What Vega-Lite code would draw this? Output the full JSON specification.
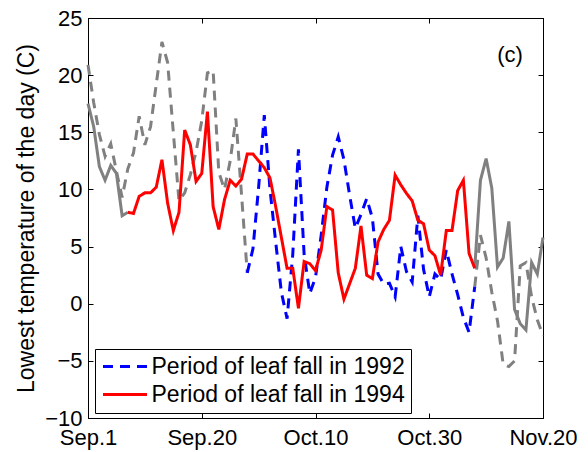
{
  "$schema": "https://vega.github.io/schema/vega-lite/v6.json",
  "width": 455,
  "height": 400,
  "autosize": "none",
  "padding": {"left": 88, "top": 18, "right": 45, "bottom": 34},
  "background": "white",
  "config": {
    "font": "Liberation Sans",
    "view": {"stroke": "black", "strokeWidth": 1},
    "axis": {
      "grid": false,
      "domainColor": "black",
      "domainWidth": 1,
      "tickColor": "black",
      "tickWidth": 1,
      "tickSize": -5,
      "labelColor": "black",
      "labelFont": "Liberation Sans",
      "labelFontSize": 22,
      "titleFont": "Liberation Sans",
      "titleColor": "black",
      "titleFontWeight": "normal"
    }
  },
  "datasets": {
    "temps": [
      {"s": "g92a", "d": 0, "t": 20.9}, {"s": "g92a", "d": 1, "t": 17.6}, {"s": "g92a", "d": 2, "t": 14.8}, {"s": "g92a", "d": 3, "t": 12.9},
      {"s": "g92a", "d": 4, "t": 14.0}, {"s": "g92a", "d": 5, "t": 11.6}, {"s": "g92a", "d": 6, "t": 9.3}, {"s": "g92a", "d": 7, "t": 11.8},
      {"s": "g92a", "d": 8, "t": 13.2}, {"s": "g92a", "d": 9, "t": 16.4}, {"s": "g92a", "d": 10, "t": 13.9}, {"s": "g92a", "d": 11, "t": 15.5},
      {"s": "g92a", "d": 12, "t": 19.2}, {"s": "g92a", "d": 13, "t": 22.9}, {"s": "g92a", "d": 14, "t": 21.1}, {"s": "g92a", "d": 15, "t": 15.0},
      {"s": "g92a", "d": 16, "t": 9.0}, {"s": "g92a", "d": 17, "t": 9.7}, {"s": "g92a", "d": 18, "t": 11.3}, {"s": "g92a", "d": 19, "t": 13.3},
      {"s": "g92a", "d": 20, "t": 16.0}, {"s": "g92a", "d": 21, "t": 20.2}, {"s": "g92a", "d": 22, "t": 20.4}, {"s": "g92a", "d": 23, "t": 11.5},
      {"s": "g92a", "d": 24, "t": 10.0}, {"s": "g92a", "d": 25, "t": 12.5}, {"s": "g92a", "d": 26, "t": 16.2}, {"s": "g92a", "d": 27, "t": 9.5},
      {"s": "g92a", "d": 28, "t": 2.7},
      {"s": "g92b", "d": 68, "t": 1.5}, {"s": "g92b", "d": 69, "t": 6.0}, {"s": "g92b", "d": 70, "t": 4.0}, {"s": "g92b", "d": 71, "t": 1.0},
      {"s": "g92b", "d": 72, "t": -1.5}, {"s": "g92b", "d": 73, "t": -5.3}, {"s": "g92b", "d": 74, "t": -5.5}, {"s": "g92b", "d": 75, "t": -5.0},
      {"s": "g92b", "d": 76, "t": 3.3}, {"s": "g92b", "d": 77, "t": 3.6}, {"s": "g92b", "d": 78, "t": 0.6}, {"s": "g92b", "d": 79, "t": -1.4},
      {"s": "g92b", "d": 80, "t": -2.8},
      {"s": "g94a", "d": 0, "t": 17.5}, {"s": "g94a", "d": 1, "t": 15.5}, {"s": "g94a", "d": 2, "t": 12.0}, {"s": "g94a", "d": 3, "t": 10.8},
      {"s": "g94a", "d": 4, "t": 12.1}, {"s": "g94a", "d": 5, "t": 11.4}, {"s": "g94a", "d": 6, "t": 7.7}, {"s": "g94a", "d": 7, "t": 8.0},
      {"s": "g94b", "d": 68, "t": 3.1}, {"s": "g94b", "d": 69, "t": 10.8}, {"s": "g94b", "d": 70, "t": 12.7}, {"s": "g94b", "d": 71, "t": 10.1},
      {"s": "g94b", "d": 72, "t": 3.2}, {"s": "g94b", "d": 73, "t": 4.0}, {"s": "g94b", "d": 74, "t": 7.2}, {"s": "g94b", "d": 75, "t": -0.5},
      {"s": "g94b", "d": 76, "t": -1.75}, {"s": "g94b", "d": 77, "t": -2.3}, {"s": "g94b", "d": 78, "t": 3.6}, {"s": "g94b", "d": 79, "t": 2.6},
      {"s": "g94b", "d": 80, "t": 5.8}
    ],
    "leaf": [
      {"s": "Period of leaf fall in 1992", "d": 28, "t": 2.7}, {"s": "Period of leaf fall in 1992", "d": 29, "t": 4.8},
      {"s": "Period of leaf fall in 1992", "d": 30, "t": 10.2}, {"s": "Period of leaf fall in 1992", "d": 31, "t": 16.5},
      {"s": "Period of leaf fall in 1992", "d": 32, "t": 10.0}, {"s": "Period of leaf fall in 1992", "d": 33, "t": 5.4},
      {"s": "Period of leaf fall in 1992", "d": 34, "t": 1.0}, {"s": "Period of leaf fall in 1992", "d": 35, "t": -1.3},
      {"s": "Period of leaf fall in 1992", "d": 36, "t": 4.3}, {"s": "Period of leaf fall in 1992", "d": 37, "t": 13.5},
      {"s": "Period of leaf fall in 1992", "d": 38, "t": 4.3}, {"s": "Period of leaf fall in 1992", "d": 39, "t": 0.9},
      {"s": "Period of leaf fall in 1992", "d": 40, "t": 2.3}, {"s": "Period of leaf fall in 1992", "d": 41, "t": 6.0},
      {"s": "Period of leaf fall in 1992", "d": 42, "t": 10.2}, {"s": "Period of leaf fall in 1992", "d": 43, "t": 13.0},
      {"s": "Period of leaf fall in 1992", "d": 44, "t": 14.6}, {"s": "Period of leaf fall in 1992", "d": 45, "t": 12.6},
      {"s": "Period of leaf fall in 1992", "d": 46, "t": 9.5}, {"s": "Period of leaf fall in 1992", "d": 47, "t": 6.6},
      {"s": "Period of leaf fall in 1992", "d": 48, "t": 7.8}, {"s": "Period of leaf fall in 1992", "d": 49, "t": 9.2},
      {"s": "Period of leaf fall in 1992", "d": 50, "t": 7.5}, {"s": "Period of leaf fall in 1992", "d": 51, "t": 2.6},
      {"s": "Period of leaf fall in 1992", "d": 52, "t": 1.7}, {"s": "Period of leaf fall in 1992", "d": 53, "t": 1.8},
      {"s": "Period of leaf fall in 1992", "d": 54, "t": 0.6}, {"s": "Period of leaf fall in 1992", "d": 55, "t": 5.0},
      {"s": "Period of leaf fall in 1992", "d": 56, "t": 2.8}, {"s": "Period of leaf fall in 1992", "d": 57, "t": 1.9},
      {"s": "Period of leaf fall in 1992", "d": 58, "t": 7.7}, {"s": "Period of leaf fall in 1992", "d": 59, "t": 3.0},
      {"s": "Period of leaf fall in 1992", "d": 60, "t": 0.6}, {"s": "Period of leaf fall in 1992", "d": 61, "t": 2.6},
      {"s": "Period of leaf fall in 1992", "d": 62, "t": 2.1}, {"s": "Period of leaf fall in 1992", "d": 63, "t": 4.7},
      {"s": "Period of leaf fall in 1992", "d": 64, "t": 2.6}, {"s": "Period of leaf fall in 1992", "d": 65, "t": 0.8},
      {"s": "Period of leaf fall in 1992", "d": 66, "t": -1.2}, {"s": "Period of leaf fall in 1992", "d": 67, "t": -2.5},
      {"s": "Period of leaf fall in 1992", "d": 68, "t": 1.5},
      {"s": "Period of leaf fall in 1994", "d": 7, "t": 8.0}, {"s": "Period of leaf fall in 1994", "d": 8, "t": 7.9},
      {"s": "Period of leaf fall in 1994", "d": 9, "t": 9.4}, {"s": "Period of leaf fall in 1994", "d": 10, "t": 9.7},
      {"s": "Period of leaf fall in 1994", "d": 11, "t": 9.7}, {"s": "Period of leaf fall in 1994", "d": 12, "t": 10.2},
      {"s": "Period of leaf fall in 1994", "d": 13, "t": 12.6}, {"s": "Period of leaf fall in 1994", "d": 14, "t": 8.8},
      {"s": "Period of leaf fall in 1994", "d": 15, "t": 6.4}, {"s": "Period of leaf fall in 1994", "d": 16, "t": 8.0},
      {"s": "Period of leaf fall in 1994", "d": 17, "t": 15.2}, {"s": "Period of leaf fall in 1994", "d": 18, "t": 13.9},
      {"s": "Period of leaf fall in 1994", "d": 19, "t": 10.7}, {"s": "Period of leaf fall in 1994", "d": 20, "t": 11.4},
      {"s": "Period of leaf fall in 1994", "d": 21, "t": 16.8}, {"s": "Period of leaf fall in 1994", "d": 22, "t": 8.5},
      {"s": "Period of leaf fall in 1994", "d": 23, "t": 6.5}, {"s": "Period of leaf fall in 1994", "d": 24, "t": 9.1},
      {"s": "Period of leaf fall in 1994", "d": 25, "t": 10.8}, {"s": "Period of leaf fall in 1994", "d": 26, "t": 10.3},
      {"s": "Period of leaf fall in 1994", "d": 27, "t": 10.9}, {"s": "Period of leaf fall in 1994", "d": 28, "t": 13.1},
      {"s": "Period of leaf fall in 1994", "d": 29, "t": 13.1}, {"s": "Period of leaf fall in 1994", "d": 30, "t": 12.5},
      {"s": "Period of leaf fall in 1994", "d": 31, "t": 11.9}, {"s": "Period of leaf fall in 1994", "d": 32, "t": 11.0},
      {"s": "Period of leaf fall in 1994", "d": 33, "t": 8.5}, {"s": "Period of leaf fall in 1994", "d": 34, "t": 5.8},
      {"s": "Period of leaf fall in 1994", "d": 35, "t": 3.1}, {"s": "Period of leaf fall in 1994", "d": 36, "t": 3.1},
      {"s": "Period of leaf fall in 1994", "d": 37, "t": -0.4}, {"s": "Period of leaf fall in 1994", "d": 38, "t": 3.7},
      {"s": "Period of leaf fall in 1994", "d": 39, "t": 3.5}, {"s": "Period of leaf fall in 1994", "d": 40, "t": 2.9},
      {"s": "Period of leaf fall in 1994", "d": 41, "t": 4.7}, {"s": "Period of leaf fall in 1994", "d": 42, "t": 8.5},
      {"s": "Period of leaf fall in 1994", "d": 43, "t": 8.2}, {"s": "Period of leaf fall in 1994", "d": 44, "t": 2.7},
      {"s": "Period of leaf fall in 1994", "d": 45, "t": 0.4}, {"s": "Period of leaf fall in 1994", "d": 46, "t": 1.75},
      {"s": "Period of leaf fall in 1994", "d": 47, "t": 3.1}, {"s": "Period of leaf fall in 1994", "d": 48, "t": 6.8},
      {"s": "Period of leaf fall in 1994", "d": 49, "t": 2.5}, {"s": "Period of leaf fall in 1994", "d": 50, "t": 2.2},
      {"s": "Period of leaf fall in 1994", "d": 51, "t": 5.4}, {"s": "Period of leaf fall in 1994", "d": 52, "t": 6.5},
      {"s": "Period of leaf fall in 1994", "d": 53, "t": 7.3}, {"s": "Period of leaf fall in 1994", "d": 54, "t": 11.25},
      {"s": "Period of leaf fall in 1994", "d": 55, "t": 10.4}, {"s": "Period of leaf fall in 1994", "d": 56, "t": 9.65},
      {"s": "Period of leaf fall in 1994", "d": 57, "t": 9.0}, {"s": "Period of leaf fall in 1994", "d": 58, "t": 7.3},
      {"s": "Period of leaf fall in 1994", "d": 59, "t": 7.0}, {"s": "Period of leaf fall in 1994", "d": 60, "t": 4.7},
      {"s": "Period of leaf fall in 1994", "d": 61, "t": 4.2}, {"s": "Period of leaf fall in 1994", "d": 62, "t": 2.5},
      {"s": "Period of leaf fall in 1994", "d": 63, "t": 6.4}, {"s": "Period of leaf fall in 1994", "d": 64, "t": 6.4},
      {"s": "Period of leaf fall in 1994", "d": 65, "t": 9.9}, {"s": "Period of leaf fall in 1994", "d": 66, "t": 10.8},
      {"s": "Period of leaf fall in 1994", "d": 67, "t": 4.4}, {"s": "Period of leaf fall in 1994", "d": 68, "t": 3.1}
    ],
    "note": [{"d": 74.2, "t": 21.8, "label": "(c)"}]
  },
  "resolve": {"axis": {"x": "independent", "y": "independent"}},
  "layer": [
    {
      "data": {"name": "temps"},
      "transform": [{"filter": "datum.s == 'g92a' || datum.s == 'g92b'"}],
      "mark": {"type": "line", "color": "#808080", "strokeWidth": 3, "strokeDash": [10, 7]},
      "encoding": {
        "x": {
          "field": "d", "type": "quantitative",
          "scale": {"domain": [0, 80], "nice": false, "zero": false},
          "axis": {
            "orient": "bottom", "title": null, "values": [0, 20, 40, 60, 80],
            "labelExpr": "datum.value == 0 ? 'Sep.1' : datum.value == 20 ? 'Sep.20' : datum.value == 40 ? 'Oct.10' : datum.value == 60 ? 'Oct.30' : 'Nov.20'",
            "labelFlush": false, "labelOverlap": false, "labelPadding": 14
          }
        },
        "y": {
          "field": "t", "type": "quantitative",
          "scale": {"domain": [-10, 25], "nice": false, "zero": false},
          "axis": {
            "orient": "left", "values": [-10, -5, 0, 5, 10, 15, 20, 25],
            "title": "Lowest temperature of the day (C)", "titleFontSize": 23,
            "labelPadding": 11, "titlePadding": 6
          }
        },
        "detail": {"field": "s"}
      }
    },
    {
      "data": {"name": "temps"},
      "transform": [{"filter": "datum.s == 'g94a' || datum.s == 'g94b'"}],
      "mark": {"type": "line", "color": "#808080", "strokeWidth": 3},
      "encoding": {
        "x": {"field": "d", "type": "quantitative", "scale": {"domain": [0, 80], "nice": false, "zero": false}, "axis": null},
        "y": {"field": "t", "type": "quantitative", "scale": {"domain": [-10, 25], "nice": false, "zero": false}, "axis": null},
        "detail": {"field": "s"}
      }
    },
    {
      "data": {"name": "leaf"},
      "mark": {"type": "line", "strokeWidth": 3},
      "encoding": {
        "x": {
          "field": "d", "type": "quantitative", "scale": {"domain": [0, 80], "nice": false, "zero": false},
          "axis": {"orient": "top", "title": null, "labels": false, "values": [0, 20, 40, 60, 80]}
        },
        "y": {
          "field": "t", "type": "quantitative", "scale": {"domain": [-10, 25], "nice": false, "zero": false},
          "axis": {"orient": "right", "title": null, "labels": false, "values": [-10, -5, 0, 5, 10, 15, 20, 25]}
        },
        "color": {
          "field": "s", "type": "nominal",
          "scale": {"domain": ["Period of leaf fall in 1992", "Period of leaf fall in 1994"], "range": ["#0000ff", "#ff0000"]},
          "legend": {
            "orient": "none", "legendX": 7, "legendY": 331, "title": null,
            "symbolType": "M-4,0H4", "symbolSize": 121, "symbolStrokeWidth": 3,
            "symbolOffset": 12.5, "labelOffset": 15, "labelLimit": 0,
            "labelFontSize": 23, "labelFont": "Liberation Sans", "labelColor": "black",
            "strokeColor": "black", "fillColor": "white", "padding": 6, "rowPadding": 4, "cornerRadius": 0
          }
        },
        "strokeDash": {
          "field": "s", "type": "nominal",
          "scale": {"domain": ["Period of leaf fall in 1992", "Period of leaf fall in 1994"], "range": [[10, 7], [1, 0]]},
          "legend": {
            "orient": "none", "legendX": 7, "legendY": 331, "title": null,
            "symbolType": "M-4,0H4", "symbolSize": 121, "symbolStrokeWidth": 3,
            "symbolOffset": 12.5, "labelOffset": 15, "labelLimit": 0,
            "labelFontSize": 23, "labelFont": "Liberation Sans", "labelColor": "black",
            "strokeColor": "black", "fillColor": "white", "padding": 6, "rowPadding": 4, "cornerRadius": 0
          }
        }
      }
    },
    {
      "data": {"name": "note"},
      "mark": {"type": "text", "fontSize": 22, "font": "Liberation Sans", "color": "black", "align": "center", "baseline": "middle"},
      "encoding": {
        "x": {"field": "d", "type": "quantitative", "scale": {"domain": [0, 80], "nice": false, "zero": false}, "axis": null},
        "y": {"field": "t", "type": "quantitative", "scale": {"domain": [-10, 25], "nice": false, "zero": false}, "axis": null},
        "text": {"field": "label"}
      }
    }
  ]
}
